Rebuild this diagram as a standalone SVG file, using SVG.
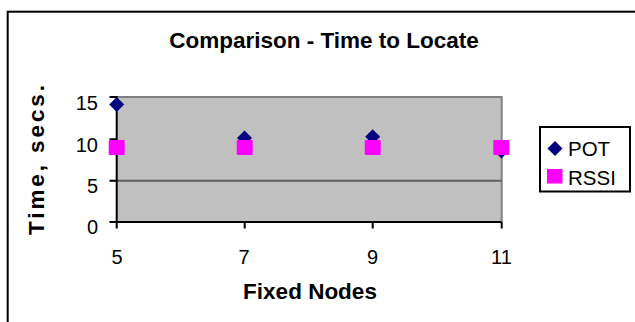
<svg xmlns="http://www.w3.org/2000/svg" width="635" height="322" viewBox="0 0 635 322">
<style>
text{font-family:"Liberation Sans",Arial,sans-serif;fill:#000}
.title{font-size:22.5px;font-weight:bold}
.tick{font-size:20px}
.leg{font-size:20.5px}
.axis{stroke:#000;stroke-width:2;fill:none}
.pot{fill:#000080}
.rssi{fill:#FF00FF}
</style>
<defs>
<path id="dia" d="M0,-7.5 L7.5,0 L0,7.5 L-7.5,0 Z"/>
<rect id="sq" x="-8" y="-7.5" width="16" height="15" rx="1"/>
</defs>
<rect x="7.7" y="11.7" width="640" height="330" fill="#fff" stroke="#000" stroke-width="2"/>
<g id="title"><text class="title" x="324" y="48.3" text-anchor="middle">Comparison - Time to Locate</text></g>
<g id="plot">
<rect x="116.7" y="97" width="385" height="125" fill="#C0C0C0"/>
<path d="M116.7,97 H501.7 V222" fill="none" stroke="#808080" stroke-width="2"/>
<line x1="116.7" y1="180.7" x2="501.7" y2="180.7" stroke="#5f5f5f" stroke-width="2"/>
</g>
<g id="axes">
<path class="axis" d="M116.7,96 V222 H501.7"/>
<path class="axis" d="M109.5,97 H116.7 M109.5,139.3 H116.7 M109.5,180.7 H116.7 M109.5,222 H116.7"/>
<path class="axis" d="M116.7,222 V228.5 M244.7,222 V228.5 M372.7,222 V228.5 M501.7,222 V228.5"/>
</g>
<g id="ylabels" text-anchor="end">
<text class="tick" x="98" y="110">15</text>
<text class="tick" x="98" y="152">10</text>
<text class="tick" x="98" y="193">5</text>
<text class="tick" x="98" y="234">0</text>
</g>
<g id="xlabels" text-anchor="middle">
<text class="tick" x="117" y="264">5</text>
<text class="tick" x="244" y="264">7</text>
<text class="tick" x="372.5" y="264">9</text>
<text class="tick" x="501.5" y="264">11</text>
</g>
<g id="xtitle"><text class="title" x="310" y="298.5" text-anchor="middle">Fixed Nodes</text></g>
<g id="ytitle"><text class="title" transform="translate(44,160) rotate(-90)" text-anchor="middle" font-size="18" textLength="150" lengthAdjust="spacing">Time, secs.</text></g>
<g id="series-pot">
<use href="#dia" class="pot" x="116.7" y="104.5"/>
<use href="#dia" class="pot" x="244.5" y="138"/>
<use href="#dia" class="pot" x="372.7" y="136.7"/>
<use href="#dia" class="pot" x="501.5" y="151"/>
</g>
<g id="series-rssi">
<use href="#sq" class="rssi" x="116.7" y="147.5"/>
<use href="#sq" class="rssi" x="244.7" y="147.5"/>
<use href="#sq" class="rssi" x="372.7" y="147.5"/>
<use href="#sq" class="rssi" x="501.3" y="147.5"/>
</g>
<g id="legend">
<rect x="540" y="127" width="90" height="64.5" fill="#fff" stroke="#000" stroke-width="2"/>
<use href="#dia" class="pot" x="555" y="148.5"/>
<text class="leg" x="568" y="155.5">POT</text>
<rect x="547" y="169" width="15.5" height="14.5" class="rssi"/>
<text class="leg" x="568" y="184.5">RSSI</text>
</g>
</svg>
